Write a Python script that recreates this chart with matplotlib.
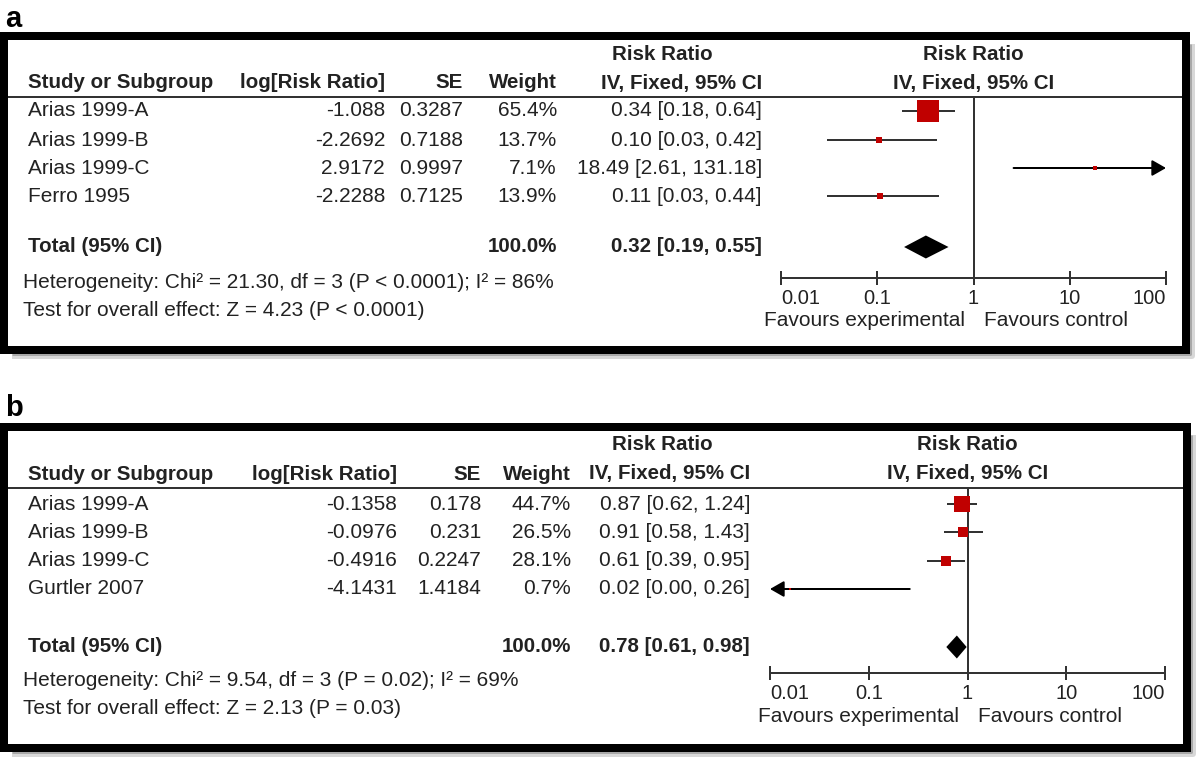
import matplotlib
matplotlib.use("Agg")
import matplotlib.pyplot as plt
import numpy as np

plt.rcParams['font.family'] = ['Liberation Sans', 'DejaVu Sans']

# ---- data: panel a ----
a_study = ["Arias 1999-A", "Arias 1999-B", "Arias 1999-C", "Ferro 1995"]
a_logrr = [-1.088, -2.2692, 2.9172, -2.2288]
a_se = [0.3287, 0.7188, 0.9997, 0.7125]
a_weight = [65.4, 13.7, 7.1, 13.9]
a_rr = [0.34, 0.10, 18.49, 0.11]
a_lo = [0.18, 0.03, 2.61, 0.03]
a_hi = [0.64, 0.42, 131.18, 0.44]
a_total = [0.32, 0.19, 0.55]
a_het = "Heterogeneity: Chi² = 21.30, df = 3 (P < 0.0001); I² = 86%"
a_test = "Test for overall effect: Z = 4.23 (P < 0.0001)"

# ---- data: panel b ----
b_study = ["Arias 1999-A", "Arias 1999-B", "Arias 1999-C", "Gurtler 2007"]
b_logrr = [-0.1358, -0.0976, -0.4916, -4.1431]
b_se = [0.178, 0.231, 0.2247, 1.4184]
b_weight = [44.7, 26.5, 28.1, 0.7]
b_rr = [0.87, 0.91, 0.61, 0.02]
b_lo = [0.62, 0.58, 0.39, 0.00]
b_hi = [1.24, 1.43, 0.95, 0.26]
b_total = [0.78, 0.61, 0.98]
b_het = "Heterogeneity: Chi² = 9.54, df = 3 (P = 0.02); I² = 69%"
b_test = "Test for overall effect: Z = 2.13 (P = 0.03)"

ticks = [0.01, 0.1, 1, 10, 100]
tick_labels = ["0.01", "0.1", "1", "10", "100"]
xmin, xmax = 0.01, 100

# ---- layout (pixels) ----
W, H = 1200, 762
FS = 15
FSB = 14.8
TXT = "#222222"
RED = "#c00000"
GREY = "#333333"

lay_a = dict(tag="a", tag_y=19, frame=(4, 36, 1186, 350), head1=55, head2=83,
             line=97, rows=[111, 140, 168, 196], total=247, het=283, test=311,
             c_log=385, c_se=463, c_w=557, c_ci=762, rr_head=662,
             ax_x=(781, 1166), ax_y=278, fav_y=320)
lay_b = dict(tag="b", tag_y=408, frame=(4, 426.5, 1187, 748), head1=445, head2=474,
             line=488, rows=[504, 532, 561, 589], total=647, het=680, test=708,
             c_log=397, c_se=481, c_w=571, c_ci=750, rr_head=662,
             ax_x=(770, 1165), ax_y=673, fav_y=717)

fig = plt.figure(figsize=(W / 100, H / 100), dpi=100)
bg = fig.add_axes([0, 0, 1, 1])
bg.set_xlim(0, W)
bg.set_ylim(H, 0)
bg.axis("off")


def px(v):
    return v * 0.72  # pixels -> points


def panel(L, study, logrr, se, weight, rr, lo, hi, total, het, test):
    x0, y0, x1, y1 = L["frame"]
    # shadow (right and bottom), then frame
    for off, col, lw in [(6, "#d8d8d8", 6), (4, "#a8a8a8", 3)]:
        bg.plot([x1 + off, x1 + off, x0 + 8], [y0 + 8, y1 + off, y1 + off],
                color=col, lw=px(lw), solid_capstyle="butt", zorder=1)
    bg.add_patch(plt.Rectangle((x0, y0), x1 - x0, y1 - y0, fill=False,
                               ec="black", lw=px(8), joinstyle="miter", zorder=3))
    bg.text(5, L["tag_y"], L["tag"], fontsize=21, fontweight="bold",
            ha="left", va="center", color="black")
    bg.plot([x0, x1], [L["line"], L["line"]], color=GREY, lw=px(2), zorder=2)

    # column headers
    hb = dict(fontsize=FSB, fontweight="bold", color=TXT, va="center")
    bg.text(28, L["head2"], "Study or Subgroup", ha="left", **hb)
    bg.text(L["c_log"], L["head2"], "log[Risk Ratio]", ha="right", **hb)
    bg.text(L["c_se"], L["head2"], "SE", ha="right", **hb)
    bg.text(L["c_w"], L["head2"], "Weight", ha="right", **hb)
    bg.text(L["rr_head"], L["head1"], "Risk Ratio", ha="center", **hb)
    bg.text(L["c_ci"], L["head2"], "IV, Fixed, 95% CI", ha="right", **hb)
    ax0, ax1 = L["ax_x"]
    xone = (ax0 + ax1) / 2
    bg.text(xone, L["head1"], "Risk Ratio", ha="center", **hb)
    bg.text(xone, L["head2"], "IV, Fixed, 95% CI", ha="center", **hb)

    # study rows
    tr = dict(fontsize=FS, color=TXT, va="center")
    for i, y in enumerate(L["rows"]):
        bg.text(28, y, study[i], ha="left", **tr)
        bg.text(L["c_log"], y, str(logrr[i]), ha="right", **tr)
        bg.text(L["c_se"], y, str(se[i]), ha="right", **tr)
        bg.text(L["c_w"], y, f"{weight[i]:.1f}%", ha="right", **tr)
        bg.text(L["c_ci"], y, f"{rr[i]:.2f} [{lo[i]:.2f}, {hi[i]:.2f}]", ha="right", **tr)

    bg.text(28, L["total"], "Total (95% CI)", ha="left", **hb)
    bg.text(L["c_w"], L["total"], "100.0%", ha="right", **hb)
    bg.text(L["c_ci"], L["total"], f"{total[0]:.2f} [{total[1]:.2f}, {total[2]:.2f}]",
            ha="right", **hb)
    bg.text(23, L["het"], het, ha="left", **tr)
    bg.text(23, L["test"], test, ha="left", **tr)

    # forest plot on a log axis
    ax = fig.add_axes([ax0 / W, 1 - L["ax_y"] / H, (ax1 - ax0) / W,
                       (L["ax_y"] - L["line"]) / H])
    ax.set_facecolor("none")
    ax.set_xscale("log")
    ax.set_xlim(xmin, xmax)
    ax.set_ylim(L["ax_y"], L["line"])
    for s in ["top", "left", "right"]:
        ax.spines[s].set_visible(False)
    ax.spines["bottom"].set_linewidth(px(2))
    ax.spines["bottom"].set_color(GREY)
    ax.set_yticks([])
    ax.set_xticks(ticks)
    ax.set_xticklabels(tick_labels)
    ax.minorticks_off()
    ax.tick_params(axis="x", direction="inout", length=px(14), width=px(2),
                   color=GREY, labelcolor=TXT, labelsize=14.5, pad=3)
    labs = ax.get_xticklabels()
    labs[0].set_ha("left")
    labs[-1].set_ha("right")
    ax.axvline(1, color=GREY, lw=px(2), zorder=1)

    arrow = dict(arrowstyle="-|>,head_length=0.7,head_width=0.4", color="black",
                 lw=px(2), shrinkA=0, shrinkB=0, mutation_scale=12)
    for i, y in enumerate(L["rows"]):
        est = np.exp(logrr[i])
        l, h = max(lo[i], xmin), min(hi[i], xmax)
        if hi[i] > xmax:
            ax.annotate("", xy=(xmax, y), xytext=(l, y), annotation_clip=False,
                        arrowprops=arrow)
        elif lo[i] < xmin:
            ax.annotate("", xy=(xmin, y), xytext=(h, y), annotation_clip=False,
                        arrowprops=arrow)
        else:
            ax.plot([l, h], [y, y], color=GREY, lw=px(2), solid_capstyle="butt", zorder=2)
        side = 2.5 + 0.3 * weight[i]
        ax.plot(est, y, marker="s", ms=px(side), color=RED, mec=RED, mew=0,
                zorder=3, clip_on=False)

    # pooled diamond
    yt, hh = L["total"], 11.5
    ax.fill([total[1], total[0], total[2], total[0]], [yt, yt - hh, yt, yt + hh],
            color="black", zorder=3, lw=0)

    bg.text(xone - 9, L["fav_y"], "Favours experimental", ha="right", **tr)
    bg.text(xone + 11, L["fav_y"], "Favours control", ha="left", **tr)


panel(lay_a, a_study, a_logrr, a_se, a_weight, a_rr, a_lo, a_hi, a_total, a_het, a_test)
panel(lay_b, b_study, b_logrr, b_se, b_weight, b_rr, b_lo, b_hi, b_total, b_het, b_test)

fig.savefig("out.png", dpi=100)
